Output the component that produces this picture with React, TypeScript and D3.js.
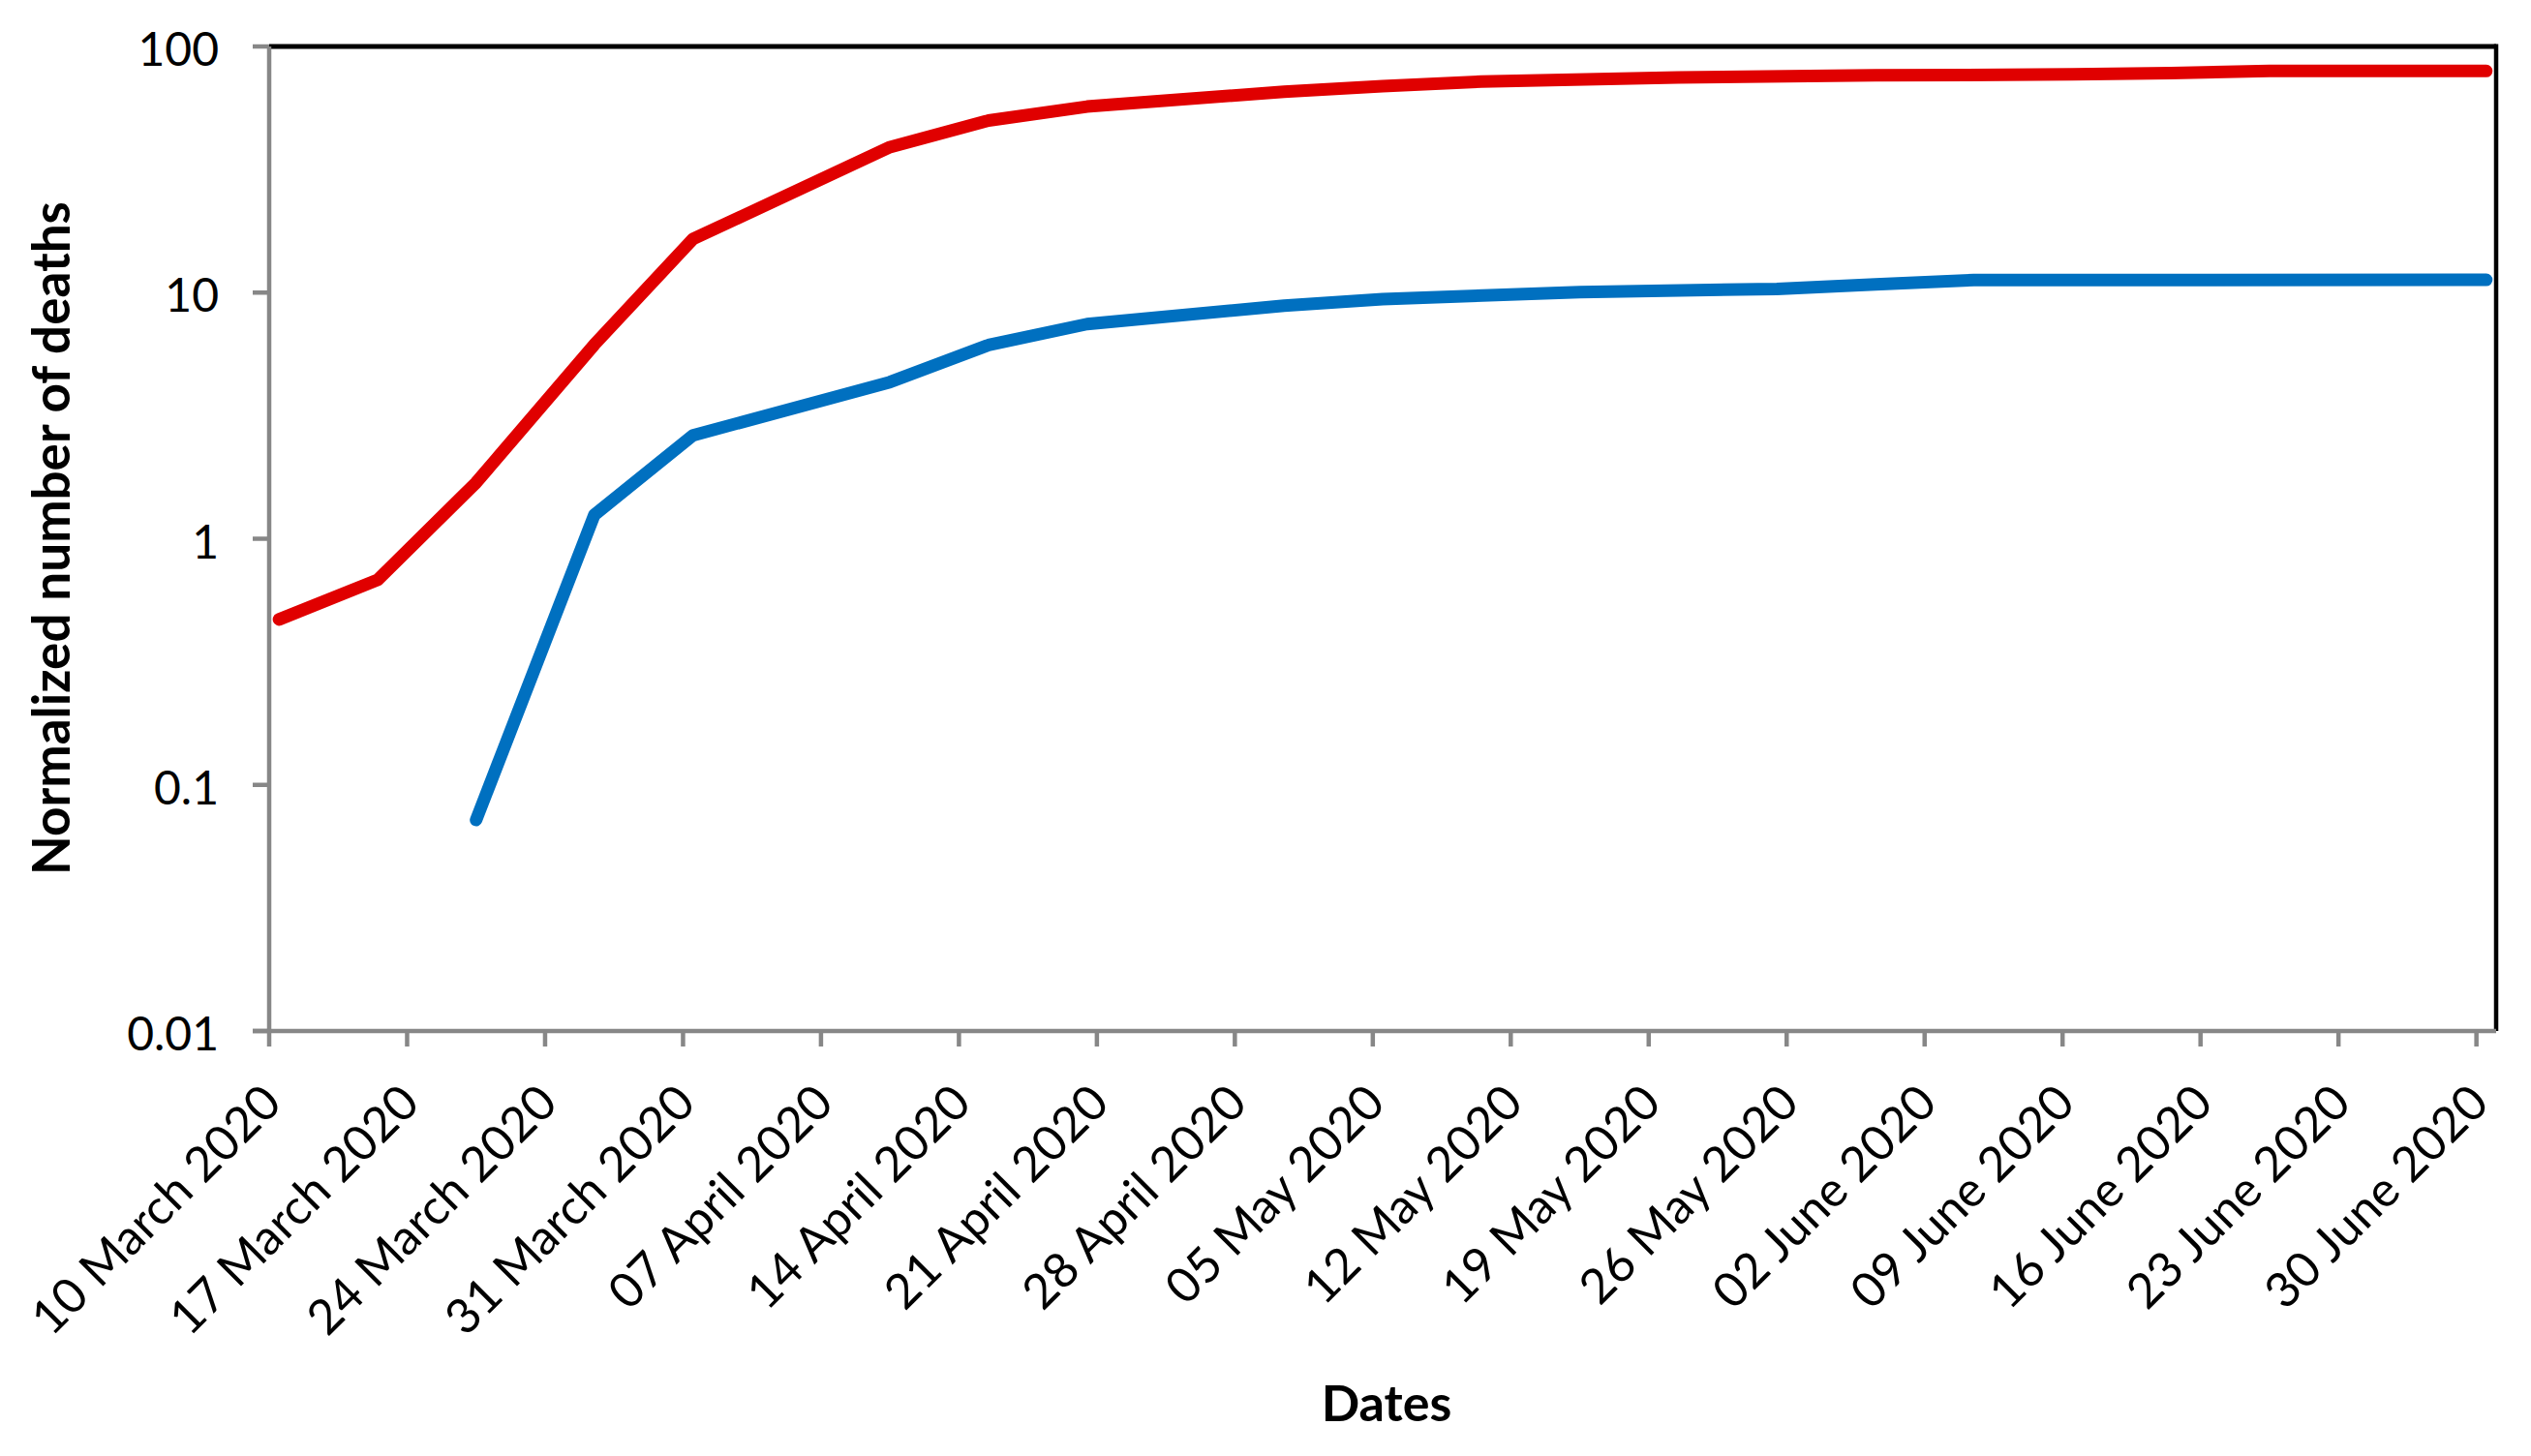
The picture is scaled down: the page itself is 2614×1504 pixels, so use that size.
import React from "react";
import * as d3 from "d3";

const yTickValues = [0.01, 0.1, 1, 10, 100];
const yTickLabels = ["0.01", "0.1", "1", "10", "100"];

const xTickDates = [
  "2020-03-10", "2020-03-17", "2020-03-24", "2020-03-31", "2020-04-07", "2020-04-14",
  "2020-04-21", "2020-04-28", "2020-05-05", "2020-05-12", "2020-05-19", "2020-05-26",
  "2020-06-02", "2020-06-09", "2020-06-16", "2020-06-23", "2020-06-30",
];
const xTickLabels = [
  "10 March 2020", "17 March 2020", "24 March 2020", "31 March 2020", "07 April 2020",
  "14 April 2020", "21 April 2020", "28 April 2020", "05 May 2020", "12 May 2020",
  "19 May 2020", "26 May 2020", "02 June 2020", "09 June 2020", "16 June 2020",
  "23 June 2020", "30 June 2020",
];

const redDates = [
  "2020-03-10", "2020-03-15", "2020-03-20", "2020-03-26", "2020-03-31", "2020-04-10",
  "2020-04-15", "2020-04-20", "2020-04-30", "2020-05-05", "2020-05-10", "2020-05-20",
  "2020-05-30", "2020-06-09", "2020-06-14", "2020-06-19", "2020-06-30",
];
const redValues = [0.47, 0.68, 1.69, 6.15, 16.5, 39, 50, 57, 65.5, 69, 72, 74.8, 76.3, 77, 78, 79.5, 79.5];

const blueDates = [
  "2020-03-20", "2020-03-26", "2020-03-31", "2020-04-10", "2020-04-15", "2020-04-20",
  "2020-04-30", "2020-05-05", "2020-05-15", "2020-05-25", "2020-05-30", "2020-06-04",
  "2020-06-30",
];
const blueValues = [0.072, 1.25, 2.63, 4.33, 6.12, 7.45, 8.85, 9.4, 10.05, 10.35, 10.8, 11.25, 11.27];

const W = 2614;
const H = 1504;
const left = 278;
const right = 2578;
const top = 48;
const bottom = 1065;
const HALF_DAY = 12 * 3600 * 1000;

const parse = (s: string) => new Date(Date.parse(s + "T00:00:00Z"));

export default function App() {
  const x = d3
    .scaleUtc()
    .domain([parse("2020-03-10"), parse("2020-07-01")])
    .range([left, right]);
  const y = d3.scaleLog().domain([0.01, 100]).range([bottom, top]);

  const line = d3
    .line<{ d: Date; v: number }>()
    .x((p) => x(new Date(p.d.getTime() + HALF_DAY)))
    .y((p) => y(p.v));

  const redPts = redDates.map((d, i) => ({ d: parse(d), v: redValues[i] }));
  const bluePts = blueDates.map((d, i) => ({ d: parse(d), v: blueValues[i] }));

  const font = "Lato, 'Open Sans', sans-serif";
  const axisColor = "#878787";

  return (
    <svg
      width={W}
      height={H}
      style={{ position: "absolute", left: 0, top: 0, background: "#fff" }}
    >
      <rect x={0} y={0} width={W} height={H} fill="#fff" />
      {/* top and right border */}
      <line x1={left} x2={right} y1={top} y2={top} stroke="#000" strokeWidth={5} />
      <line x1={right} x2={right} y1={top - 2.5} y2={bottom} stroke="#000" strokeWidth={4.5} />
      {/* y axis */}
      <line x1={left} x2={left} y1={top} y2={bottom} stroke={axisColor} strokeWidth={4.5} />
      {yTickValues.map((v, i) => (
        <g key={"yt" + i}>
          <line x1={left - 17} x2={left} y1={y(v)} y2={y(v)} stroke={axisColor} strokeWidth={4.5} />
          <text
            x={left - 52}
            y={y(v) + 20}
            textAnchor="end"
            fontFamily={font}
            fontSize={48}
            fill="#000"
          >
            {yTickLabels[i]}
          </text>
        </g>
      ))}
      {/* x axis */}
      <line x1={left - 17} x2={right} y1={bottom} y2={bottom} stroke={axisColor} strokeWidth={4.5} />
      {xTickDates.map((d, i) => {
        const tx = x(parse(d));
        const ax = tx + 15;
        const ay = bottom + 77;
        return (
          <g key={"xt" + i}>
            <line x1={tx} x2={tx} y1={bottom} y2={bottom + 16} stroke={axisColor} strokeWidth={4.5} />
            <text
              x={ax}
              y={ay}
              textAnchor="end"
              fontFamily={font}
              fontSize={50}
              fill="#000"
              transform={`rotate(-45 ${ax} ${ay})`}
            >
              {xTickLabels[i]}
            </text>
          </g>
        );
      })}
      {/* series */}
      <path
        d={line(bluePts) || ""}
        fill="none"
        stroke="#0070C0"
        strokeWidth={13}
        strokeLinecap="round"
        strokeLinejoin="round"
      />
      <path
        d={line(redPts) || ""}
        fill="none"
        stroke="#E00000"
        strokeWidth={13}
        strokeLinecap="round"
        strokeLinejoin="round"
      />
      {/* titles */}
      <text
        x={1432}
        y={1468}
        textAnchor="middle"
        fontFamily={font}
        fontWeight="bold"
        fontSize={52}
        fill="#000"
      >
        Dates
      </text>
      <text
        x={72}
        y={556}
        textAnchor="middle"
        fontFamily={font}
        fontWeight="bold"
        fontSize={53}
        fill="#000"
        transform={`rotate(-90 72 556)`}
      >
        Normalized number of deaths
      </text>
    </svg>
  );
}
